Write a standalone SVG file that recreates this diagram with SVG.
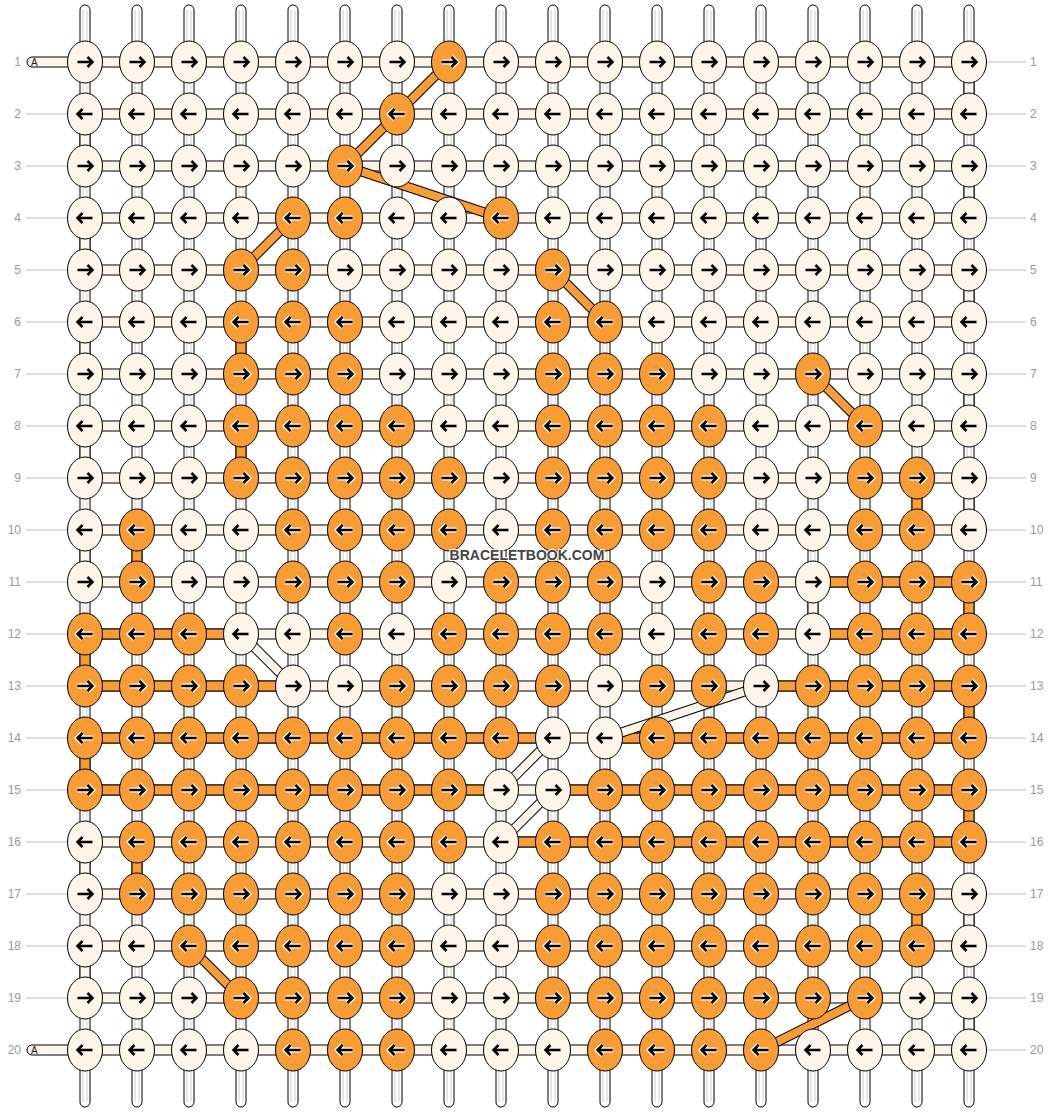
<svg xmlns="http://www.w3.org/2000/svg" xmlns:xlink="http://www.w3.org/1999/xlink" width="1052" height="1112" viewBox="0 0 1052 1112">
<style>
.w{fill:#fff;stroke:#000;stroke-width:1}
.wl{stroke:#cfcfcf;stroke-width:1;fill:none}
.sc{fill:#FDF5EA;stroke:#000;stroke-width:1}
.so{fill:#F89C35;stroke:#000;stroke-width:1}
.dk{fill:none;stroke:#000;stroke-width:10}
.do{fill:none;stroke:#F89C35;stroke-width:8}
.dc{fill:none;stroke:#FDF5EA;stroke-width:8}
ellipse{rx:17.5px;ry:21px;stroke:#000;stroke-width:1}
.c{fill:#FDF5EA}
.o{fill:#F89C35}
.ar{fill:none;stroke:#000;stroke-width:2.5}
.hw{fill:none;stroke:#fff;stroke-width:5}
.lb{font-family:"Liberation Sans",Arial,sans-serif;font-size:12px;fill:#999}
.gl{stroke:#bbb;stroke-width:1}
.st{font-family:"Liberation Sans",Arial,sans-serif;font-size:10px;fill:#222}
.wm{font-family:"Liberation Sans",Arial,sans-serif;font-size:14px;font-weight:bold;fill:#444;stroke:#fff;stroke-width:2;paint-order:stroke}
</style>
<defs>
<g id="wp"><path class="w" d="M-5,1102V10a5,5 0 0 1 10,0V1102a5,5 0 0 1 -10,0Z"/><path class="wl" d="M-2,10V1102M2,10V1102"/></g>
<path id="r" class="ar" d="M-7.5,0H7M2.5,-5L7.5,0L2.5,5"/>
<path id="l" class="ar" d="M7.5,0H-7M-2.5,-5L-7.5,0L-2.5,5"/>
<g id="ro"><path class="hw" d="M-7.5,0H7M2.5,-5L7.5,0L2.5,5"/><use href="#r"/></g>
<g id="lo"><path class="hw" d="M7.5,0H-7M-2.5,-5L-7.5,0L-2.5,5"/><use href="#l"/></g>
</defs>
<rect width="1052" height="1112" fill="#fff"/>
<g id="labels">
<g class="gl">
<path d="M26,114H67M26,166H67M26,218H67M26,270H67M26,322H67M26,374H67M26,426H67M26,478H67M26,530H67M26,582H67M26,634H67M26,686H67M26,738H67M26,790H67M26,842H67M26,894H67M26,946H67M26,998H67"/>
<path d="M986,62H1026M986,114H1026M986,166H1026M986,218H1026M986,270H1026M986,322H1026M986,374H1026M986,426H1026M986,478H1026M986,530H1026M986,582H1026M986,634H1026M986,686H1026M986,738H1026M986,790H1026M986,842H1026M986,894H1026M986,946H1026M986,998H1026M986,1050H1026"/>
</g>
<g class="lb" text-anchor="end">
<text x="21" y="66">1</text><text x="21" y="118">2</text><text x="21" y="170">3</text><text x="21" y="222">4</text><text x="21" y="274">5</text><text x="21" y="326">6</text><text x="21" y="378">7</text><text x="21" y="430">8</text><text x="21" y="482">9</text><text x="21" y="534">10</text><text x="21" y="586">11</text><text x="21" y="638">12</text><text x="21" y="690">13</text><text x="21" y="742">14</text><text x="21" y="794">15</text><text x="21" y="846">16</text><text x="21" y="898">17</text><text x="21" y="950">18</text><text x="21" y="1002">19</text><text x="21" y="1054">20</text>
</g>
<g class="lb">
<text x="1030" y="66">1</text><text x="1030" y="118">2</text><text x="1030" y="170">3</text><text x="1030" y="222">4</text><text x="1030" y="274">5</text><text x="1030" y="326">6</text><text x="1030" y="378">7</text><text x="1030" y="430">8</text><text x="1030" y="482">9</text><text x="1030" y="534">10</text><text x="1030" y="586">11</text><text x="1030" y="638">12</text><text x="1030" y="690">13</text><text x="1030" y="742">14</text><text x="1030" y="794">15</text><text x="1030" y="846">16</text><text x="1030" y="898">17</text><text x="1030" y="950">18</text><text x="1030" y="1002">19</text><text x="1030" y="1054">20</text>
</g>
</g>
<g id="warps">
<use href="#wp" x="85"/><use href="#wp" x="137"/><use href="#wp" x="189"/><use href="#wp" x="241"/><use href="#wp" x="293"/><use href="#wp" x="345"/><use href="#wp" x="397"/><use href="#wp" x="449"/><use href="#wp" x="501"/><use href="#wp" x="553"/><use href="#wp" x="605"/><use href="#wp" x="657"/><use href="#wp" x="709"/><use href="#wp" x="761"/><use href="#wp" x="813"/><use href="#wp" x="865"/><use href="#wp" x="917"/><use href="#wp" x="969"/>
</g>
<g id="connectors">
<g id="turns">
<rect class="sc" x="964" y="62" width="10" height="52"/><rect class="sc" x="964" y="166" width="10" height="52"/><rect class="sc" x="964" y="270" width="10" height="52"/><rect class="sc" x="964" y="374" width="10" height="52"/><rect class="sc" x="964" y="478" width="10" height="52"/><rect class="sc" x="964" y="894" width="10" height="52"/><rect class="sc" x="964" y="998" width="10" height="52"/>
<rect class="sc" x="80" y="114" width="10" height="52"/><rect class="sc" x="80" y="218" width="10" height="52"/><rect class="sc" x="80" y="322" width="10" height="52"/><rect class="sc" x="80" y="426" width="10" height="52"/><rect class="sc" x="80" y="530" width="10" height="52"/><rect class="sc" x="80" y="842" width="10" height="52"/><rect class="sc" x="80" y="946" width="10" height="52"/>
<rect class="sc" x="808" y="582" width="10" height="52"/>
<rect class="so" x="964" y="582" width="10" height="52"/><rect class="so" x="964" y="686" width="10" height="52"/><rect class="so" x="964" y="790" width="10" height="52"/>
<rect class="so" x="80" y="634" width="10" height="52"/><rect class="so" x="80" y="738" width="10" height="52"/>
<rect class="so" x="236" y="322" width="10" height="52"/><rect class="so" x="236" y="426" width="10" height="52"/>
<rect class="so" x="912" y="478" width="10" height="52"/><rect class="so" x="912" y="894" width="10" height="52"/>
<rect class="so" x="132" y="530" width="10" height="52"/><rect class="so" x="132" y="842" width="10" height="52"/>
</g>
<g id="rows">
<path class="sc" d="M85,57H32a5,5 0 0 0 0,10H85Z"/>
<path class="sc" d="M85,1045H32a5,5 0 0 0 0,10H85Z"/>
<rect class="sc" x="85" y="57" width="884" height="10"/><rect class="sc" x="85" y="109" width="884" height="10"/><rect class="sc" x="85" y="161" width="884" height="10"/><rect class="sc" x="85" y="213" width="884" height="10"/><rect class="sc" x="85" y="265" width="884" height="10"/><rect class="sc" x="85" y="317" width="884" height="10"/><rect class="sc" x="85" y="369" width="884" height="10"/><rect class="sc" x="85" y="421" width="884" height="10"/><rect class="sc" x="85" y="473" width="884" height="10"/><rect class="sc" x="85" y="525" width="884" height="10"/><rect class="sc" x="85" y="577" width="884" height="10"/><rect class="sc" x="85" y="629" width="884" height="10"/><rect class="sc" x="85" y="681" width="884" height="10"/><rect class="sc" x="85" y="733" width="884" height="10"/><rect class="sc" x="85" y="785" width="884" height="10"/><rect class="sc" x="85" y="837" width="884" height="10"/><rect class="sc" x="85" y="889" width="884" height="10"/><rect class="sc" x="85" y="941" width="884" height="10"/><rect class="sc" x="85" y="993" width="884" height="10"/><rect class="sc" x="85" y="1045" width="884" height="10"/>
<rect class="so" x="813" y="577" width="156" height="10"/>
<rect class="so" x="85" y="629" width="156" height="10"/><rect class="so" x="813" y="629" width="156" height="10"/>
<rect class="so" x="85" y="681" width="208" height="10"/><rect class="so" x="761" y="681" width="208" height="10"/>
<rect class="so" x="85" y="733" width="468" height="10"/><rect class="so" x="605" y="733" width="364" height="10"/>
<rect class="so" x="85" y="785" width="416" height="10"/><rect class="so" x="553" y="785" width="416" height="10"/>
<rect class="so" x="501" y="837" width="468" height="10"/>
<text class="st" x="31" y="66">A</text>
<text class="st" x="31" y="1054">A</text>
</g>
<g id="diagonals">
<path class="dk" d="M449,62L397,114M397,114L345,166M345,166L501,218M293,218L241,270M553,270L605,322M813,374L865,426M189,946L241,998M865,998L761,1050M241,634L293,686M761,686L605,738M553,738L501,790M553,790L501,842"/>
<path class="do" d="M449,62L397,114M397,114L345,166M345,166L501,218M293,218L241,270M553,270L605,322M813,374L865,426M189,946L241,998M865,998L761,1050"/>
<path class="dc" d="M241,634L293,686M761,686L605,738M553,738L501,790M553,790L501,842"/>
</g>
</g>
<g id="knots">
<g id="k1-1"><ellipse class="c" cx="85" cy="62"/><use href="#r" x="85" y="62"/></g>
<g id="k1-2"><ellipse class="c" cx="137" cy="62"/><use href="#r" x="137" y="62"/></g>
<g id="k1-3"><ellipse class="c" cx="189" cy="62"/><use href="#r" x="189" y="62"/></g>
<g id="k1-4"><ellipse class="c" cx="241" cy="62"/><use href="#r" x="241" y="62"/></g>
<g id="k1-5"><ellipse class="c" cx="293" cy="62"/><use href="#r" x="293" y="62"/></g>
<g id="k1-6"><ellipse class="c" cx="345" cy="62"/><use href="#r" x="345" y="62"/></g>
<g id="k1-7"><ellipse class="c" cx="397" cy="62"/><use href="#r" x="397" y="62"/></g>
<g id="k1-8"><ellipse class="o" cx="449" cy="62"/><use href="#ro" x="449" y="62"/></g>
<g id="k1-9"><ellipse class="c" cx="501" cy="62"/><use href="#r" x="501" y="62"/></g>
<g id="k1-10"><ellipse class="c" cx="553" cy="62"/><use href="#r" x="553" y="62"/></g>
<g id="k1-11"><ellipse class="c" cx="605" cy="62"/><use href="#r" x="605" y="62"/></g>
<g id="k1-12"><ellipse class="c" cx="657" cy="62"/><use href="#r" x="657" y="62"/></g>
<g id="k1-13"><ellipse class="c" cx="709" cy="62"/><use href="#r" x="709" y="62"/></g>
<g id="k1-14"><ellipse class="c" cx="761" cy="62"/><use href="#r" x="761" y="62"/></g>
<g id="k1-15"><ellipse class="c" cx="813" cy="62"/><use href="#r" x="813" y="62"/></g>
<g id="k1-16"><ellipse class="c" cx="865" cy="62"/><use href="#r" x="865" y="62"/></g>
<g id="k1-17"><ellipse class="c" cx="917" cy="62"/><use href="#r" x="917" y="62"/></g>
<g id="k1-18"><ellipse class="c" cx="969" cy="62"/><use href="#r" x="969" y="62"/></g>
<g id="k2-1"><ellipse class="c" cx="85" cy="114"/><use href="#l" x="85" y="114"/></g>
<g id="k2-2"><ellipse class="c" cx="137" cy="114"/><use href="#l" x="137" y="114"/></g>
<g id="k2-3"><ellipse class="c" cx="189" cy="114"/><use href="#l" x="189" y="114"/></g>
<g id="k2-4"><ellipse class="c" cx="241" cy="114"/><use href="#l" x="241" y="114"/></g>
<g id="k2-5"><ellipse class="c" cx="293" cy="114"/><use href="#l" x="293" y="114"/></g>
<g id="k2-6"><ellipse class="c" cx="345" cy="114"/><use href="#l" x="345" y="114"/></g>
<g id="k2-7"><ellipse class="o" cx="397" cy="114"/><use href="#lo" x="397" y="114"/></g>
<g id="k2-8"><ellipse class="c" cx="449" cy="114"/><use href="#l" x="449" y="114"/></g>
<g id="k2-9"><ellipse class="c" cx="501" cy="114"/><use href="#l" x="501" y="114"/></g>
<g id="k2-10"><ellipse class="c" cx="553" cy="114"/><use href="#l" x="553" y="114"/></g>
<g id="k2-11"><ellipse class="c" cx="605" cy="114"/><use href="#l" x="605" y="114"/></g>
<g id="k2-12"><ellipse class="c" cx="657" cy="114"/><use href="#l" x="657" y="114"/></g>
<g id="k2-13"><ellipse class="c" cx="709" cy="114"/><use href="#l" x="709" y="114"/></g>
<g id="k2-14"><ellipse class="c" cx="761" cy="114"/><use href="#l" x="761" y="114"/></g>
<g id="k2-15"><ellipse class="c" cx="813" cy="114"/><use href="#l" x="813" y="114"/></g>
<g id="k2-16"><ellipse class="c" cx="865" cy="114"/><use href="#l" x="865" y="114"/></g>
<g id="k2-17"><ellipse class="c" cx="917" cy="114"/><use href="#l" x="917" y="114"/></g>
<g id="k2-18"><ellipse class="c" cx="969" cy="114"/><use href="#l" x="969" y="114"/></g>
<g id="k3-1"><ellipse class="c" cx="85" cy="166"/><use href="#r" x="85" y="166"/></g>
<g id="k3-2"><ellipse class="c" cx="137" cy="166"/><use href="#r" x="137" y="166"/></g>
<g id="k3-3"><ellipse class="c" cx="189" cy="166"/><use href="#r" x="189" y="166"/></g>
<g id="k3-4"><ellipse class="c" cx="241" cy="166"/><use href="#r" x="241" y="166"/></g>
<g id="k3-5"><ellipse class="c" cx="293" cy="166"/><use href="#r" x="293" y="166"/></g>
<g id="k3-6"><ellipse class="o" cx="345" cy="166"/><use href="#ro" x="345" y="166"/></g>
<g id="k3-7"><ellipse class="c" cx="397" cy="166"/><use href="#r" x="397" y="166"/></g>
<g id="k3-8"><ellipse class="c" cx="449" cy="166"/><use href="#r" x="449" y="166"/></g>
<g id="k3-9"><ellipse class="c" cx="501" cy="166"/><use href="#r" x="501" y="166"/></g>
<g id="k3-10"><ellipse class="c" cx="553" cy="166"/><use href="#r" x="553" y="166"/></g>
<g id="k3-11"><ellipse class="c" cx="605" cy="166"/><use href="#r" x="605" y="166"/></g>
<g id="k3-12"><ellipse class="c" cx="657" cy="166"/><use href="#r" x="657" y="166"/></g>
<g id="k3-13"><ellipse class="c" cx="709" cy="166"/><use href="#r" x="709" y="166"/></g>
<g id="k3-14"><ellipse class="c" cx="761" cy="166"/><use href="#r" x="761" y="166"/></g>
<g id="k3-15"><ellipse class="c" cx="813" cy="166"/><use href="#r" x="813" y="166"/></g>
<g id="k3-16"><ellipse class="c" cx="865" cy="166"/><use href="#r" x="865" y="166"/></g>
<g id="k3-17"><ellipse class="c" cx="917" cy="166"/><use href="#r" x="917" y="166"/></g>
<g id="k3-18"><ellipse class="c" cx="969" cy="166"/><use href="#r" x="969" y="166"/></g>
<g id="k4-1"><ellipse class="c" cx="85" cy="218"/><use href="#l" x="85" y="218"/></g>
<g id="k4-2"><ellipse class="c" cx="137" cy="218"/><use href="#l" x="137" y="218"/></g>
<g id="k4-3"><ellipse class="c" cx="189" cy="218"/><use href="#l" x="189" y="218"/></g>
<g id="k4-4"><ellipse class="c" cx="241" cy="218"/><use href="#l" x="241" y="218"/></g>
<g id="k4-5"><ellipse class="o" cx="293" cy="218"/><use href="#lo" x="293" y="218"/></g>
<g id="k4-6"><ellipse class="o" cx="345" cy="218"/><use href="#lo" x="345" y="218"/></g>
<g id="k4-7"><ellipse class="c" cx="397" cy="218"/><use href="#l" x="397" y="218"/></g>
<g id="k4-8"><ellipse class="c" cx="449" cy="218"/><use href="#l" x="449" y="218"/></g>
<g id="k4-9"><ellipse class="o" cx="501" cy="218"/><use href="#lo" x="501" y="218"/></g>
<g id="k4-10"><ellipse class="c" cx="553" cy="218"/><use href="#l" x="553" y="218"/></g>
<g id="k4-11"><ellipse class="c" cx="605" cy="218"/><use href="#l" x="605" y="218"/></g>
<g id="k4-12"><ellipse class="c" cx="657" cy="218"/><use href="#l" x="657" y="218"/></g>
<g id="k4-13"><ellipse class="c" cx="709" cy="218"/><use href="#l" x="709" y="218"/></g>
<g id="k4-14"><ellipse class="c" cx="761" cy="218"/><use href="#l" x="761" y="218"/></g>
<g id="k4-15"><ellipse class="c" cx="813" cy="218"/><use href="#l" x="813" y="218"/></g>
<g id="k4-16"><ellipse class="c" cx="865" cy="218"/><use href="#l" x="865" y="218"/></g>
<g id="k4-17"><ellipse class="c" cx="917" cy="218"/><use href="#l" x="917" y="218"/></g>
<g id="k4-18"><ellipse class="c" cx="969" cy="218"/><use href="#l" x="969" y="218"/></g>
<g id="k5-1"><ellipse class="c" cx="85" cy="270"/><use href="#r" x="85" y="270"/></g>
<g id="k5-2"><ellipse class="c" cx="137" cy="270"/><use href="#r" x="137" y="270"/></g>
<g id="k5-3"><ellipse class="c" cx="189" cy="270"/><use href="#r" x="189" y="270"/></g>
<g id="k5-4"><ellipse class="o" cx="241" cy="270"/><use href="#ro" x="241" y="270"/></g>
<g id="k5-5"><ellipse class="o" cx="293" cy="270"/><use href="#ro" x="293" y="270"/></g>
<g id="k5-6"><ellipse class="c" cx="345" cy="270"/><use href="#r" x="345" y="270"/></g>
<g id="k5-7"><ellipse class="c" cx="397" cy="270"/><use href="#r" x="397" y="270"/></g>
<g id="k5-8"><ellipse class="c" cx="449" cy="270"/><use href="#r" x="449" y="270"/></g>
<g id="k5-9"><ellipse class="c" cx="501" cy="270"/><use href="#r" x="501" y="270"/></g>
<g id="k5-10"><ellipse class="o" cx="553" cy="270"/><use href="#ro" x="553" y="270"/></g>
<g id="k5-11"><ellipse class="c" cx="605" cy="270"/><use href="#r" x="605" y="270"/></g>
<g id="k5-12"><ellipse class="c" cx="657" cy="270"/><use href="#r" x="657" y="270"/></g>
<g id="k5-13"><ellipse class="c" cx="709" cy="270"/><use href="#r" x="709" y="270"/></g>
<g id="k5-14"><ellipse class="c" cx="761" cy="270"/><use href="#r" x="761" y="270"/></g>
<g id="k5-15"><ellipse class="c" cx="813" cy="270"/><use href="#r" x="813" y="270"/></g>
<g id="k5-16"><ellipse class="c" cx="865" cy="270"/><use href="#r" x="865" y="270"/></g>
<g id="k5-17"><ellipse class="c" cx="917" cy="270"/><use href="#r" x="917" y="270"/></g>
<g id="k5-18"><ellipse class="c" cx="969" cy="270"/><use href="#r" x="969" y="270"/></g>
<g id="k6-1"><ellipse class="c" cx="85" cy="322"/><use href="#l" x="85" y="322"/></g>
<g id="k6-2"><ellipse class="c" cx="137" cy="322"/><use href="#l" x="137" y="322"/></g>
<g id="k6-3"><ellipse class="c" cx="189" cy="322"/><use href="#l" x="189" y="322"/></g>
<g id="k6-4"><ellipse class="o" cx="241" cy="322"/><use href="#lo" x="241" y="322"/></g>
<g id="k6-5"><ellipse class="o" cx="293" cy="322"/><use href="#lo" x="293" y="322"/></g>
<g id="k6-6"><ellipse class="o" cx="345" cy="322"/><use href="#lo" x="345" y="322"/></g>
<g id="k6-7"><ellipse class="c" cx="397" cy="322"/><use href="#l" x="397" y="322"/></g>
<g id="k6-8"><ellipse class="c" cx="449" cy="322"/><use href="#l" x="449" y="322"/></g>
<g id="k6-9"><ellipse class="c" cx="501" cy="322"/><use href="#l" x="501" y="322"/></g>
<g id="k6-10"><ellipse class="o" cx="553" cy="322"/><use href="#lo" x="553" y="322"/></g>
<g id="k6-11"><ellipse class="o" cx="605" cy="322"/><use href="#lo" x="605" y="322"/></g>
<g id="k6-12"><ellipse class="c" cx="657" cy="322"/><use href="#l" x="657" y="322"/></g>
<g id="k6-13"><ellipse class="c" cx="709" cy="322"/><use href="#l" x="709" y="322"/></g>
<g id="k6-14"><ellipse class="c" cx="761" cy="322"/><use href="#l" x="761" y="322"/></g>
<g id="k6-15"><ellipse class="c" cx="813" cy="322"/><use href="#l" x="813" y="322"/></g>
<g id="k6-16"><ellipse class="c" cx="865" cy="322"/><use href="#l" x="865" y="322"/></g>
<g id="k6-17"><ellipse class="c" cx="917" cy="322"/><use href="#l" x="917" y="322"/></g>
<g id="k6-18"><ellipse class="c" cx="969" cy="322"/><use href="#l" x="969" y="322"/></g>
<g id="k7-1"><ellipse class="c" cx="85" cy="374"/><use href="#r" x="85" y="374"/></g>
<g id="k7-2"><ellipse class="c" cx="137" cy="374"/><use href="#r" x="137" y="374"/></g>
<g id="k7-3"><ellipse class="c" cx="189" cy="374"/><use href="#r" x="189" y="374"/></g>
<g id="k7-4"><ellipse class="o" cx="241" cy="374"/><use href="#ro" x="241" y="374"/></g>
<g id="k7-5"><ellipse class="o" cx="293" cy="374"/><use href="#ro" x="293" y="374"/></g>
<g id="k7-6"><ellipse class="o" cx="345" cy="374"/><use href="#ro" x="345" y="374"/></g>
<g id="k7-7"><ellipse class="c" cx="397" cy="374"/><use href="#r" x="397" y="374"/></g>
<g id="k7-8"><ellipse class="c" cx="449" cy="374"/><use href="#r" x="449" y="374"/></g>
<g id="k7-9"><ellipse class="c" cx="501" cy="374"/><use href="#r" x="501" y="374"/></g>
<g id="k7-10"><ellipse class="o" cx="553" cy="374"/><use href="#ro" x="553" y="374"/></g>
<g id="k7-11"><ellipse class="o" cx="605" cy="374"/><use href="#ro" x="605" y="374"/></g>
<g id="k7-12"><ellipse class="o" cx="657" cy="374"/><use href="#ro" x="657" y="374"/></g>
<g id="k7-13"><ellipse class="c" cx="709" cy="374"/><use href="#r" x="709" y="374"/></g>
<g id="k7-14"><ellipse class="c" cx="761" cy="374"/><use href="#r" x="761" y="374"/></g>
<g id="k7-15"><ellipse class="o" cx="813" cy="374"/><use href="#ro" x="813" y="374"/></g>
<g id="k7-16"><ellipse class="c" cx="865" cy="374"/><use href="#r" x="865" y="374"/></g>
<g id="k7-17"><ellipse class="c" cx="917" cy="374"/><use href="#r" x="917" y="374"/></g>
<g id="k7-18"><ellipse class="c" cx="969" cy="374"/><use href="#r" x="969" y="374"/></g>
<g id="k8-1"><ellipse class="c" cx="85" cy="426"/><use href="#l" x="85" y="426"/></g>
<g id="k8-2"><ellipse class="c" cx="137" cy="426"/><use href="#l" x="137" y="426"/></g>
<g id="k8-3"><ellipse class="c" cx="189" cy="426"/><use href="#l" x="189" y="426"/></g>
<g id="k8-4"><ellipse class="o" cx="241" cy="426"/><use href="#lo" x="241" y="426"/></g>
<g id="k8-5"><ellipse class="o" cx="293" cy="426"/><use href="#lo" x="293" y="426"/></g>
<g id="k8-6"><ellipse class="o" cx="345" cy="426"/><use href="#lo" x="345" y="426"/></g>
<g id="k8-7"><ellipse class="o" cx="397" cy="426"/><use href="#lo" x="397" y="426"/></g>
<g id="k8-8"><ellipse class="c" cx="449" cy="426"/><use href="#l" x="449" y="426"/></g>
<g id="k8-9"><ellipse class="c" cx="501" cy="426"/><use href="#l" x="501" y="426"/></g>
<g id="k8-10"><ellipse class="o" cx="553" cy="426"/><use href="#lo" x="553" y="426"/></g>
<g id="k8-11"><ellipse class="o" cx="605" cy="426"/><use href="#lo" x="605" y="426"/></g>
<g id="k8-12"><ellipse class="o" cx="657" cy="426"/><use href="#lo" x="657" y="426"/></g>
<g id="k8-13"><ellipse class="o" cx="709" cy="426"/><use href="#lo" x="709" y="426"/></g>
<g id="k8-14"><ellipse class="c" cx="761" cy="426"/><use href="#l" x="761" y="426"/></g>
<g id="k8-15"><ellipse class="c" cx="813" cy="426"/><use href="#l" x="813" y="426"/></g>
<g id="k8-16"><ellipse class="o" cx="865" cy="426"/><use href="#lo" x="865" y="426"/></g>
<g id="k8-17"><ellipse class="c" cx="917" cy="426"/><use href="#l" x="917" y="426"/></g>
<g id="k8-18"><ellipse class="c" cx="969" cy="426"/><use href="#l" x="969" y="426"/></g>
<g id="k9-1"><ellipse class="c" cx="85" cy="478"/><use href="#r" x="85" y="478"/></g>
<g id="k9-2"><ellipse class="c" cx="137" cy="478"/><use href="#r" x="137" y="478"/></g>
<g id="k9-3"><ellipse class="c" cx="189" cy="478"/><use href="#r" x="189" y="478"/></g>
<g id="k9-4"><ellipse class="o" cx="241" cy="478"/><use href="#ro" x="241" y="478"/></g>
<g id="k9-5"><ellipse class="o" cx="293" cy="478"/><use href="#ro" x="293" y="478"/></g>
<g id="k9-6"><ellipse class="o" cx="345" cy="478"/><use href="#ro" x="345" y="478"/></g>
<g id="k9-7"><ellipse class="o" cx="397" cy="478"/><use href="#ro" x="397" y="478"/></g>
<g id="k9-8"><ellipse class="o" cx="449" cy="478"/><use href="#ro" x="449" y="478"/></g>
<g id="k9-9"><ellipse class="c" cx="501" cy="478"/><use href="#r" x="501" y="478"/></g>
<g id="k9-10"><ellipse class="o" cx="553" cy="478"/><use href="#ro" x="553" y="478"/></g>
<g id="k9-11"><ellipse class="o" cx="605" cy="478"/><use href="#ro" x="605" y="478"/></g>
<g id="k9-12"><ellipse class="o" cx="657" cy="478"/><use href="#ro" x="657" y="478"/></g>
<g id="k9-13"><ellipse class="o" cx="709" cy="478"/><use href="#ro" x="709" y="478"/></g>
<g id="k9-14"><ellipse class="c" cx="761" cy="478"/><use href="#r" x="761" y="478"/></g>
<g id="k9-15"><ellipse class="c" cx="813" cy="478"/><use href="#r" x="813" y="478"/></g>
<g id="k9-16"><ellipse class="o" cx="865" cy="478"/><use href="#ro" x="865" y="478"/></g>
<g id="k9-17"><ellipse class="o" cx="917" cy="478"/><use href="#ro" x="917" y="478"/></g>
<g id="k9-18"><ellipse class="c" cx="969" cy="478"/><use href="#r" x="969" y="478"/></g>
<g id="k10-1"><ellipse class="c" cx="85" cy="530"/><use href="#l" x="85" y="530"/></g>
<g id="k10-2"><ellipse class="o" cx="137" cy="530"/><use href="#lo" x="137" y="530"/></g>
<g id="k10-3"><ellipse class="c" cx="189" cy="530"/><use href="#l" x="189" y="530"/></g>
<g id="k10-4"><ellipse class="c" cx="241" cy="530"/><use href="#l" x="241" y="530"/></g>
<g id="k10-5"><ellipse class="o" cx="293" cy="530"/><use href="#lo" x="293" y="530"/></g>
<g id="k10-6"><ellipse class="o" cx="345" cy="530"/><use href="#lo" x="345" y="530"/></g>
<g id="k10-7"><ellipse class="o" cx="397" cy="530"/><use href="#lo" x="397" y="530"/></g>
<g id="k10-8"><ellipse class="o" cx="449" cy="530"/><use href="#lo" x="449" y="530"/></g>
<g id="k10-9"><ellipse class="c" cx="501" cy="530"/><use href="#l" x="501" y="530"/></g>
<g id="k10-10"><ellipse class="o" cx="553" cy="530"/><use href="#lo" x="553" y="530"/></g>
<g id="k10-11"><ellipse class="o" cx="605" cy="530"/><use href="#lo" x="605" y="530"/></g>
<g id="k10-12"><ellipse class="o" cx="657" cy="530"/><use href="#lo" x="657" y="530"/></g>
<g id="k10-13"><ellipse class="o" cx="709" cy="530"/><use href="#lo" x="709" y="530"/></g>
<g id="k10-14"><ellipse class="c" cx="761" cy="530"/><use href="#l" x="761" y="530"/></g>
<g id="k10-15"><ellipse class="c" cx="813" cy="530"/><use href="#l" x="813" y="530"/></g>
<g id="k10-16"><ellipse class="o" cx="865" cy="530"/><use href="#lo" x="865" y="530"/></g>
<g id="k10-17"><ellipse class="o" cx="917" cy="530"/><use href="#lo" x="917" y="530"/></g>
<g id="k10-18"><ellipse class="c" cx="969" cy="530"/><use href="#l" x="969" y="530"/></g>
<g id="k11-1"><ellipse class="c" cx="85" cy="582"/><use href="#r" x="85" y="582"/></g>
<g id="k11-2"><ellipse class="o" cx="137" cy="582"/><use href="#ro" x="137" y="582"/></g>
<g id="k11-3"><ellipse class="c" cx="189" cy="582"/><use href="#r" x="189" y="582"/></g>
<g id="k11-4"><ellipse class="c" cx="241" cy="582"/><use href="#r" x="241" y="582"/></g>
<g id="k11-5"><ellipse class="o" cx="293" cy="582"/><use href="#ro" x="293" y="582"/></g>
<g id="k11-6"><ellipse class="o" cx="345" cy="582"/><use href="#ro" x="345" y="582"/></g>
<g id="k11-7"><ellipse class="o" cx="397" cy="582"/><use href="#ro" x="397" y="582"/></g>
<g id="k11-8"><ellipse class="c" cx="449" cy="582"/><use href="#r" x="449" y="582"/></g>
<g id="k11-9"><ellipse class="o" cx="501" cy="582"/><use href="#ro" x="501" y="582"/></g>
<g id="k11-10"><ellipse class="o" cx="553" cy="582"/><use href="#ro" x="553" y="582"/></g>
<g id="k11-11"><ellipse class="o" cx="605" cy="582"/><use href="#ro" x="605" y="582"/></g>
<g id="k11-12"><ellipse class="c" cx="657" cy="582"/><use href="#r" x="657" y="582"/></g>
<g id="k11-13"><ellipse class="o" cx="709" cy="582"/><use href="#ro" x="709" y="582"/></g>
<g id="k11-14"><ellipse class="o" cx="761" cy="582"/><use href="#ro" x="761" y="582"/></g>
<g id="k11-15"><ellipse class="c" cx="813" cy="582"/><use href="#r" x="813" y="582"/></g>
<g id="k11-16"><ellipse class="o" cx="865" cy="582"/><use href="#ro" x="865" y="582"/></g>
<g id="k11-17"><ellipse class="o" cx="917" cy="582"/><use href="#ro" x="917" y="582"/></g>
<g id="k11-18"><ellipse class="o" cx="969" cy="582"/><use href="#ro" x="969" y="582"/></g>
<g id="k12-1"><ellipse class="o" cx="85" cy="634"/><use href="#lo" x="85" y="634"/></g>
<g id="k12-2"><ellipse class="o" cx="137" cy="634"/><use href="#lo" x="137" y="634"/></g>
<g id="k12-3"><ellipse class="o" cx="189" cy="634"/><use href="#lo" x="189" y="634"/></g>
<g id="k12-4"><ellipse class="c" cx="241" cy="634"/><use href="#l" x="241" y="634"/></g>
<g id="k12-5"><ellipse class="c" cx="293" cy="634"/><use href="#l" x="293" y="634"/></g>
<g id="k12-6"><ellipse class="o" cx="345" cy="634"/><use href="#lo" x="345" y="634"/></g>
<g id="k12-7"><ellipse class="c" cx="397" cy="634"/><use href="#l" x="397" y="634"/></g>
<g id="k12-8"><ellipse class="o" cx="449" cy="634"/><use href="#lo" x="449" y="634"/></g>
<g id="k12-9"><ellipse class="o" cx="501" cy="634"/><use href="#lo" x="501" y="634"/></g>
<g id="k12-10"><ellipse class="o" cx="553" cy="634"/><use href="#lo" x="553" y="634"/></g>
<g id="k12-11"><ellipse class="o" cx="605" cy="634"/><use href="#lo" x="605" y="634"/></g>
<g id="k12-12"><ellipse class="c" cx="657" cy="634"/><use href="#l" x="657" y="634"/></g>
<g id="k12-13"><ellipse class="o" cx="709" cy="634"/><use href="#lo" x="709" y="634"/></g>
<g id="k12-14"><ellipse class="o" cx="761" cy="634"/><use href="#lo" x="761" y="634"/></g>
<g id="k12-15"><ellipse class="c" cx="813" cy="634"/><use href="#l" x="813" y="634"/></g>
<g id="k12-16"><ellipse class="o" cx="865" cy="634"/><use href="#lo" x="865" y="634"/></g>
<g id="k12-17"><ellipse class="o" cx="917" cy="634"/><use href="#lo" x="917" y="634"/></g>
<g id="k12-18"><ellipse class="o" cx="969" cy="634"/><use href="#lo" x="969" y="634"/></g>
<g id="k13-1"><ellipse class="o" cx="85" cy="686"/><use href="#ro" x="85" y="686"/></g>
<g id="k13-2"><ellipse class="o" cx="137" cy="686"/><use href="#ro" x="137" y="686"/></g>
<g id="k13-3"><ellipse class="o" cx="189" cy="686"/><use href="#ro" x="189" y="686"/></g>
<g id="k13-4"><ellipse class="o" cx="241" cy="686"/><use href="#ro" x="241" y="686"/></g>
<g id="k13-5"><ellipse class="c" cx="293" cy="686"/><use href="#r" x="293" y="686"/></g>
<g id="k13-6"><ellipse class="c" cx="345" cy="686"/><use href="#r" x="345" y="686"/></g>
<g id="k13-7"><ellipse class="o" cx="397" cy="686"/><use href="#ro" x="397" y="686"/></g>
<g id="k13-8"><ellipse class="o" cx="449" cy="686"/><use href="#ro" x="449" y="686"/></g>
<g id="k13-9"><ellipse class="o" cx="501" cy="686"/><use href="#ro" x="501" y="686"/></g>
<g id="k13-10"><ellipse class="o" cx="553" cy="686"/><use href="#ro" x="553" y="686"/></g>
<g id="k13-11"><ellipse class="c" cx="605" cy="686"/><use href="#r" x="605" y="686"/></g>
<g id="k13-12"><ellipse class="o" cx="657" cy="686"/><use href="#ro" x="657" y="686"/></g>
<g id="k13-13"><ellipse class="o" cx="709" cy="686"/><use href="#ro" x="709" y="686"/></g>
<g id="k13-14"><ellipse class="c" cx="761" cy="686"/><use href="#r" x="761" y="686"/></g>
<g id="k13-15"><ellipse class="o" cx="813" cy="686"/><use href="#ro" x="813" y="686"/></g>
<g id="k13-16"><ellipse class="o" cx="865" cy="686"/><use href="#ro" x="865" y="686"/></g>
<g id="k13-17"><ellipse class="o" cx="917" cy="686"/><use href="#ro" x="917" y="686"/></g>
<g id="k13-18"><ellipse class="o" cx="969" cy="686"/><use href="#ro" x="969" y="686"/></g>
<g id="k14-1"><ellipse class="o" cx="85" cy="738"/><use href="#lo" x="85" y="738"/></g>
<g id="k14-2"><ellipse class="o" cx="137" cy="738"/><use href="#lo" x="137" y="738"/></g>
<g id="k14-3"><ellipse class="o" cx="189" cy="738"/><use href="#lo" x="189" y="738"/></g>
<g id="k14-4"><ellipse class="o" cx="241" cy="738"/><use href="#lo" x="241" y="738"/></g>
<g id="k14-5"><ellipse class="o" cx="293" cy="738"/><use href="#lo" x="293" y="738"/></g>
<g id="k14-6"><ellipse class="o" cx="345" cy="738"/><use href="#lo" x="345" y="738"/></g>
<g id="k14-7"><ellipse class="o" cx="397" cy="738"/><use href="#lo" x="397" y="738"/></g>
<g id="k14-8"><ellipse class="o" cx="449" cy="738"/><use href="#lo" x="449" y="738"/></g>
<g id="k14-9"><ellipse class="o" cx="501" cy="738"/><use href="#lo" x="501" y="738"/></g>
<g id="k14-10"><ellipse class="c" cx="553" cy="738"/><use href="#l" x="553" y="738"/></g>
<g id="k14-11"><ellipse class="c" cx="605" cy="738"/><use href="#l" x="605" y="738"/></g>
<g id="k14-12"><ellipse class="o" cx="657" cy="738"/><use href="#lo" x="657" y="738"/></g>
<g id="k14-13"><ellipse class="o" cx="709" cy="738"/><use href="#lo" x="709" y="738"/></g>
<g id="k14-14"><ellipse class="o" cx="761" cy="738"/><use href="#lo" x="761" y="738"/></g>
<g id="k14-15"><ellipse class="o" cx="813" cy="738"/><use href="#lo" x="813" y="738"/></g>
<g id="k14-16"><ellipse class="o" cx="865" cy="738"/><use href="#lo" x="865" y="738"/></g>
<g id="k14-17"><ellipse class="o" cx="917" cy="738"/><use href="#lo" x="917" y="738"/></g>
<g id="k14-18"><ellipse class="o" cx="969" cy="738"/><use href="#lo" x="969" y="738"/></g>
<g id="k15-1"><ellipse class="o" cx="85" cy="790"/><use href="#ro" x="85" y="790"/></g>
<g id="k15-2"><ellipse class="o" cx="137" cy="790"/><use href="#ro" x="137" y="790"/></g>
<g id="k15-3"><ellipse class="o" cx="189" cy="790"/><use href="#ro" x="189" y="790"/></g>
<g id="k15-4"><ellipse class="o" cx="241" cy="790"/><use href="#ro" x="241" y="790"/></g>
<g id="k15-5"><ellipse class="o" cx="293" cy="790"/><use href="#ro" x="293" y="790"/></g>
<g id="k15-6"><ellipse class="o" cx="345" cy="790"/><use href="#ro" x="345" y="790"/></g>
<g id="k15-7"><ellipse class="o" cx="397" cy="790"/><use href="#ro" x="397" y="790"/></g>
<g id="k15-8"><ellipse class="o" cx="449" cy="790"/><use href="#ro" x="449" y="790"/></g>
<g id="k15-9"><ellipse class="c" cx="501" cy="790"/><use href="#r" x="501" y="790"/></g>
<g id="k15-10"><ellipse class="c" cx="553" cy="790"/><use href="#r" x="553" y="790"/></g>
<g id="k15-11"><ellipse class="o" cx="605" cy="790"/><use href="#ro" x="605" y="790"/></g>
<g id="k15-12"><ellipse class="o" cx="657" cy="790"/><use href="#ro" x="657" y="790"/></g>
<g id="k15-13"><ellipse class="o" cx="709" cy="790"/><use href="#ro" x="709" y="790"/></g>
<g id="k15-14"><ellipse class="o" cx="761" cy="790"/><use href="#ro" x="761" y="790"/></g>
<g id="k15-15"><ellipse class="o" cx="813" cy="790"/><use href="#ro" x="813" y="790"/></g>
<g id="k15-16"><ellipse class="o" cx="865" cy="790"/><use href="#ro" x="865" y="790"/></g>
<g id="k15-17"><ellipse class="o" cx="917" cy="790"/><use href="#ro" x="917" y="790"/></g>
<g id="k15-18"><ellipse class="o" cx="969" cy="790"/><use href="#ro" x="969" y="790"/></g>
<g id="k16-1"><ellipse class="c" cx="85" cy="842"/><use href="#l" x="85" y="842"/></g>
<g id="k16-2"><ellipse class="o" cx="137" cy="842"/><use href="#lo" x="137" y="842"/></g>
<g id="k16-3"><ellipse class="o" cx="189" cy="842"/><use href="#lo" x="189" y="842"/></g>
<g id="k16-4"><ellipse class="o" cx="241" cy="842"/><use href="#lo" x="241" y="842"/></g>
<g id="k16-5"><ellipse class="o" cx="293" cy="842"/><use href="#lo" x="293" y="842"/></g>
<g id="k16-6"><ellipse class="o" cx="345" cy="842"/><use href="#lo" x="345" y="842"/></g>
<g id="k16-7"><ellipse class="o" cx="397" cy="842"/><use href="#lo" x="397" y="842"/></g>
<g id="k16-8"><ellipse class="o" cx="449" cy="842"/><use href="#lo" x="449" y="842"/></g>
<g id="k16-9"><ellipse class="c" cx="501" cy="842"/><use href="#l" x="501" y="842"/></g>
<g id="k16-10"><ellipse class="o" cx="553" cy="842"/><use href="#lo" x="553" y="842"/></g>
<g id="k16-11"><ellipse class="o" cx="605" cy="842"/><use href="#lo" x="605" y="842"/></g>
<g id="k16-12"><ellipse class="o" cx="657" cy="842"/><use href="#lo" x="657" y="842"/></g>
<g id="k16-13"><ellipse class="o" cx="709" cy="842"/><use href="#lo" x="709" y="842"/></g>
<g id="k16-14"><ellipse class="o" cx="761" cy="842"/><use href="#lo" x="761" y="842"/></g>
<g id="k16-15"><ellipse class="o" cx="813" cy="842"/><use href="#lo" x="813" y="842"/></g>
<g id="k16-16"><ellipse class="o" cx="865" cy="842"/><use href="#lo" x="865" y="842"/></g>
<g id="k16-17"><ellipse class="o" cx="917" cy="842"/><use href="#lo" x="917" y="842"/></g>
<g id="k16-18"><ellipse class="o" cx="969" cy="842"/><use href="#lo" x="969" y="842"/></g>
<g id="k17-1"><ellipse class="c" cx="85" cy="894"/><use href="#r" x="85" y="894"/></g>
<g id="k17-2"><ellipse class="o" cx="137" cy="894"/><use href="#ro" x="137" y="894"/></g>
<g id="k17-3"><ellipse class="o" cx="189" cy="894"/><use href="#ro" x="189" y="894"/></g>
<g id="k17-4"><ellipse class="o" cx="241" cy="894"/><use href="#ro" x="241" y="894"/></g>
<g id="k17-5"><ellipse class="o" cx="293" cy="894"/><use href="#ro" x="293" y="894"/></g>
<g id="k17-6"><ellipse class="o" cx="345" cy="894"/><use href="#ro" x="345" y="894"/></g>
<g id="k17-7"><ellipse class="o" cx="397" cy="894"/><use href="#ro" x="397" y="894"/></g>
<g id="k17-8"><ellipse class="c" cx="449" cy="894"/><use href="#r" x="449" y="894"/></g>
<g id="k17-9"><ellipse class="c" cx="501" cy="894"/><use href="#r" x="501" y="894"/></g>
<g id="k17-10"><ellipse class="o" cx="553" cy="894"/><use href="#ro" x="553" y="894"/></g>
<g id="k17-11"><ellipse class="o" cx="605" cy="894"/><use href="#ro" x="605" y="894"/></g>
<g id="k17-12"><ellipse class="o" cx="657" cy="894"/><use href="#ro" x="657" y="894"/></g>
<g id="k17-13"><ellipse class="o" cx="709" cy="894"/><use href="#ro" x="709" y="894"/></g>
<g id="k17-14"><ellipse class="o" cx="761" cy="894"/><use href="#ro" x="761" y="894"/></g>
<g id="k17-15"><ellipse class="o" cx="813" cy="894"/><use href="#ro" x="813" y="894"/></g>
<g id="k17-16"><ellipse class="o" cx="865" cy="894"/><use href="#ro" x="865" y="894"/></g>
<g id="k17-17"><ellipse class="o" cx="917" cy="894"/><use href="#ro" x="917" y="894"/></g>
<g id="k17-18"><ellipse class="c" cx="969" cy="894"/><use href="#r" x="969" y="894"/></g>
<g id="k18-1"><ellipse class="c" cx="85" cy="946"/><use href="#l" x="85" y="946"/></g>
<g id="k18-2"><ellipse class="c" cx="137" cy="946"/><use href="#l" x="137" y="946"/></g>
<g id="k18-3"><ellipse class="o" cx="189" cy="946"/><use href="#lo" x="189" y="946"/></g>
<g id="k18-4"><ellipse class="o" cx="241" cy="946"/><use href="#lo" x="241" y="946"/></g>
<g id="k18-5"><ellipse class="o" cx="293" cy="946"/><use href="#lo" x="293" y="946"/></g>
<g id="k18-6"><ellipse class="o" cx="345" cy="946"/><use href="#lo" x="345" y="946"/></g>
<g id="k18-7"><ellipse class="o" cx="397" cy="946"/><use href="#lo" x="397" y="946"/></g>
<g id="k18-8"><ellipse class="c" cx="449" cy="946"/><use href="#l" x="449" y="946"/></g>
<g id="k18-9"><ellipse class="c" cx="501" cy="946"/><use href="#l" x="501" y="946"/></g>
<g id="k18-10"><ellipse class="o" cx="553" cy="946"/><use href="#lo" x="553" y="946"/></g>
<g id="k18-11"><ellipse class="o" cx="605" cy="946"/><use href="#lo" x="605" y="946"/></g>
<g id="k18-12"><ellipse class="o" cx="657" cy="946"/><use href="#lo" x="657" y="946"/></g>
<g id="k18-13"><ellipse class="o" cx="709" cy="946"/><use href="#lo" x="709" y="946"/></g>
<g id="k18-14"><ellipse class="o" cx="761" cy="946"/><use href="#lo" x="761" y="946"/></g>
<g id="k18-15"><ellipse class="o" cx="813" cy="946"/><use href="#lo" x="813" y="946"/></g>
<g id="k18-16"><ellipse class="o" cx="865" cy="946"/><use href="#lo" x="865" y="946"/></g>
<g id="k18-17"><ellipse class="o" cx="917" cy="946"/><use href="#lo" x="917" y="946"/></g>
<g id="k18-18"><ellipse class="c" cx="969" cy="946"/><use href="#l" x="969" y="946"/></g>
<g id="k19-1"><ellipse class="c" cx="85" cy="998"/><use href="#r" x="85" y="998"/></g>
<g id="k19-2"><ellipse class="c" cx="137" cy="998"/><use href="#r" x="137" y="998"/></g>
<g id="k19-3"><ellipse class="c" cx="189" cy="998"/><use href="#r" x="189" y="998"/></g>
<g id="k19-4"><ellipse class="o" cx="241" cy="998"/><use href="#ro" x="241" y="998"/></g>
<g id="k19-5"><ellipse class="o" cx="293" cy="998"/><use href="#ro" x="293" y="998"/></g>
<g id="k19-6"><ellipse class="o" cx="345" cy="998"/><use href="#ro" x="345" y="998"/></g>
<g id="k19-7"><ellipse class="o" cx="397" cy="998"/><use href="#ro" x="397" y="998"/></g>
<g id="k19-8"><ellipse class="c" cx="449" cy="998"/><use href="#r" x="449" y="998"/></g>
<g id="k19-9"><ellipse class="c" cx="501" cy="998"/><use href="#r" x="501" y="998"/></g>
<g id="k19-10"><ellipse class="o" cx="553" cy="998"/><use href="#ro" x="553" y="998"/></g>
<g id="k19-11"><ellipse class="o" cx="605" cy="998"/><use href="#ro" x="605" y="998"/></g>
<g id="k19-12"><ellipse class="o" cx="657" cy="998"/><use href="#ro" x="657" y="998"/></g>
<g id="k19-13"><ellipse class="o" cx="709" cy="998"/><use href="#ro" x="709" y="998"/></g>
<g id="k19-14"><ellipse class="o" cx="761" cy="998"/><use href="#ro" x="761" y="998"/></g>
<g id="k19-15"><ellipse class="o" cx="813" cy="998"/><use href="#ro" x="813" y="998"/></g>
<g id="k19-16"><ellipse class="o" cx="865" cy="998"/><use href="#ro" x="865" y="998"/></g>
<g id="k19-17"><ellipse class="c" cx="917" cy="998"/><use href="#r" x="917" y="998"/></g>
<g id="k19-18"><ellipse class="c" cx="969" cy="998"/><use href="#r" x="969" y="998"/></g>
<g id="k20-1"><ellipse class="c" cx="85" cy="1050"/><use href="#l" x="85" y="1050"/></g>
<g id="k20-2"><ellipse class="c" cx="137" cy="1050"/><use href="#l" x="137" y="1050"/></g>
<g id="k20-3"><ellipse class="c" cx="189" cy="1050"/><use href="#l" x="189" y="1050"/></g>
<g id="k20-4"><ellipse class="c" cx="241" cy="1050"/><use href="#l" x="241" y="1050"/></g>
<g id="k20-5"><ellipse class="o" cx="293" cy="1050"/><use href="#lo" x="293" y="1050"/></g>
<g id="k20-6"><ellipse class="o" cx="345" cy="1050"/><use href="#lo" x="345" y="1050"/></g>
<g id="k20-7"><ellipse class="o" cx="397" cy="1050"/><use href="#lo" x="397" y="1050"/></g>
<g id="k20-8"><ellipse class="c" cx="449" cy="1050"/><use href="#l" x="449" y="1050"/></g>
<g id="k20-9"><ellipse class="c" cx="501" cy="1050"/><use href="#l" x="501" y="1050"/></g>
<g id="k20-10"><ellipse class="c" cx="553" cy="1050"/><use href="#l" x="553" y="1050"/></g>
<g id="k20-11"><ellipse class="o" cx="605" cy="1050"/><use href="#lo" x="605" y="1050"/></g>
<g id="k20-12"><ellipse class="o" cx="657" cy="1050"/><use href="#lo" x="657" y="1050"/></g>
<g id="k20-13"><ellipse class="o" cx="709" cy="1050"/><use href="#lo" x="709" y="1050"/></g>
<g id="k20-14"><ellipse class="o" cx="761" cy="1050"/><use href="#lo" x="761" y="1050"/></g>
<g id="k20-15"><ellipse class="c" cx="813" cy="1050"/><use href="#l" x="813" y="1050"/></g>
<g id="k20-16"><ellipse class="c" cx="865" cy="1050"/><use href="#l" x="865" y="1050"/></g>
<g id="k20-17"><ellipse class="c" cx="917" cy="1050"/><use href="#l" x="917" y="1050"/></g>
<g id="k20-18"><ellipse class="c" cx="969" cy="1050"/><use href="#l" x="969" y="1050"/></g>
</g>
<text class="wm" x="527" y="560" text-anchor="middle">BRACELETBOOK.COM</text>
</svg>
